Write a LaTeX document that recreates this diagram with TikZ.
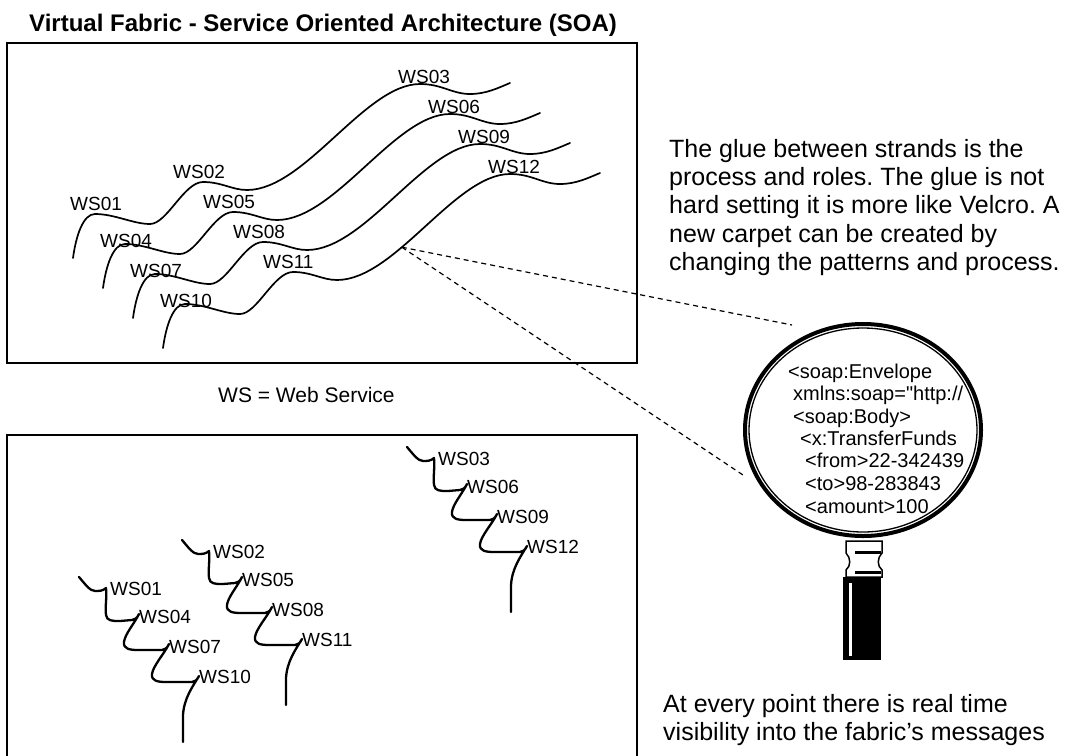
\documentclass[tikz,border=0pt]{standalone}
\usepackage{fontspec}
\setmainfont{Liberation Sans}
\newfontfamily\codefont{Liberation Sans}[Ligatures=ResetAll]
\usetikzlibrary{shapes.geometric}
\frenchspacing
\begin{document}
\begin{tikzpicture}[x=1pt,y=-1pt,
  frame/.style={line width=2pt},
  strand/.style={line width=1.7pt, line cap=round},
  zigzag/.style={line width=2.3pt, line cap=round, line join=round},
  wslabel/.style={inner sep=0pt, anchor=base west, font=\fontsize{19}{22}\selectfont},
  bodytext/.style={inner sep=0pt, anchor=base west, font=\fontsize{25}{28}\selectfont},
  code/.style={inner sep=0pt, anchor=base west, font=\codefont\fontsize{20}{22}\selectfont},
  lookline/.style={line width=1.2pt, dash pattern=on 5pt off 4pt},
]
\useasboundingbox (0,0) rectangle (1065,755);

% heading
\node[inner sep=0pt, anchor=base west, font=\fontsize{24}{28}\selectfont\bfseries]
  (title) at (29,31) {Virtual Fabric - Service Oriented Architecture (SOA)};

% the two panels (the lower one runs off the page bottom)
\draw[frame] (7,43) rectangle (637,363);
\draw[frame] (7,760) -- (7,435) -- (637,435) -- (637,760);

% woven fabric: four parallel strands
\foreach \i in {1,...,4} {
  \begin{scope}[shift={({30*(\i-1)},{30*(\i-1)})}]
    \draw[strand] (73,258) .. controls (76,236) and (83,214) .. (95,214)
      .. controls (115,214) and (133,224) .. (150,224)
      .. controls (167,224) and (184,182) .. (203,182)
      .. controls (222,182) and (232,190) .. (247,190)
      .. controls (305,190) and (365,84) .. (420,84) coordinate[pos=0.37] (tap\i)
      .. controls (442,84) and (452,94) .. (470,94)
      .. controls (486,94) and (498,88) .. (510,83);
  \end{scope}
}
\foreach \n/\x/\y in {01/70/210, 04/100/247, 07/130/277, 10/160/307,
                      02/173/178, 05/203/208, 08/233/238, 11/263/268,
                      03/398/83, 06/428/113, 09/458/143, 12/488/173}
  \node[wslabel] (t\n) at (\x,\y) {WS\n};

\node[inner sep=0pt, anchor=base west, font=\fontsize{21}{24}\selectfont]
  (legend) at (218,402) {WS = Web Service};

% loose strands in the lower panel
\foreach \dx/\dy/\a/\b/\c/\d in {-328/130/01/04/07/10, -225/93/02/05/08/11, 0/0/03/06/09/12} {
  \begin{scope}[shift={(\dx,\dy)}]
    \draw[zigzag] (407,447) .. controls (413,454) and (418,461) .. (423,461)
      .. controls (427,461) and (431,461) .. (434,458)
      .. controls (435,468) and (433,476) .. (434,485)
      .. controls (435,491) and (440,491) .. (448,491) -- (460,490)
      .. controls (463,490) and (465,488) .. (467,484)
      .. controls (462,494) and (453,504) .. (452,512)
      .. controls (451,519) and (458,520) .. (466,520) -- (490,520)
      .. controls (493,520) and (495,518) .. (497,514)
      .. controls (492,524) and (481,536) .. (480,544)
      .. controls (479,551) and (486,552) .. (494,552) -- (520,552)
      .. controls (523,552) and (525,550) .. (527,546)
      .. controls (521,556) and (512,568) .. (511,585) -- (511,612);
    \node[wslabel] (b\a) at (438,465) {WS\a};
    \node[wslabel] (b\b) at (467,493) {WS\b};
    \node[wslabel] (b\c) at (497,523) {WS\c};
    \node[wslabel] (b\d) at (527,553) {WS\d};
  \end{scope}
}

% sight lines towards the magnifier
\coordinate (m1) at (792,325);
\coordinate (m2) at (743,475);
\draw[lookline] (tap4) -- (m1);
\draw[lookline] (tap4) -- (m2);

% magnifying glass
\node[ellipse, draw, line width=4pt, minimum width=236pt, minimum height=212pt,
      inner sep=0pt] (lens) at (863,430) {};
\draw[line width=1.3pt] (lens.center) ellipse [x radius=114pt, y radius=102pt];

\draw[line width=1.5pt, fill=white] (846,541) -- (882,541) -- (882,553)
  .. controls (877,558) and (877,566) .. (882,570) -- (882,577) -- (846,577)
  -- (846,570) .. controls (851,566) and (851,558) .. (846,553) -- cycle;
\fill (855,550.5) rectangle (881,553.5);
\fill (855,570.5) rectangle (881,573.5);
\fill (843,577) rectangle (881,660);
\fill[white] (849,583) rectangle (852,656);

% SOAP message seen through the lens
\node[code] (c1) at (788,378) {<soap:Envelope};
\node[code] (c2) at (793,400) {xmlns:soap="http://};
\node[code] (c3) at (793,423) {<soap:Body>};
\node[code] (c4) at (800,445) {<x:TransferFunds};
\node[code] (c5) at (805,467) {<from>22-342439};
\node[code] (c6) at (805,490) {<to>98-283843};
\node[code] (c7) at (805,513) {<amount>100};

% notes
\node[bodytext] (g1) at (669,157) {The glue between strands is the};
\node[bodytext] (g2) at (669,185.3) {process and roles. The glue is not};
\node[bodytext] (g3) at (669,213.6) {hard setting it is more like Velcro. A};
\node[bodytext] (g4) at (669,242) {new carpet can be created by};
\node[bodytext] (g5) at (669,270.3) {changing the patterns and process.};

\node[bodytext] (v1) at (663,712) {At every point there is real time};
\node[bodytext] (v2) at (663,740) {visibility into the fabric's messages};
\end{tikzpicture}
\end{document}
